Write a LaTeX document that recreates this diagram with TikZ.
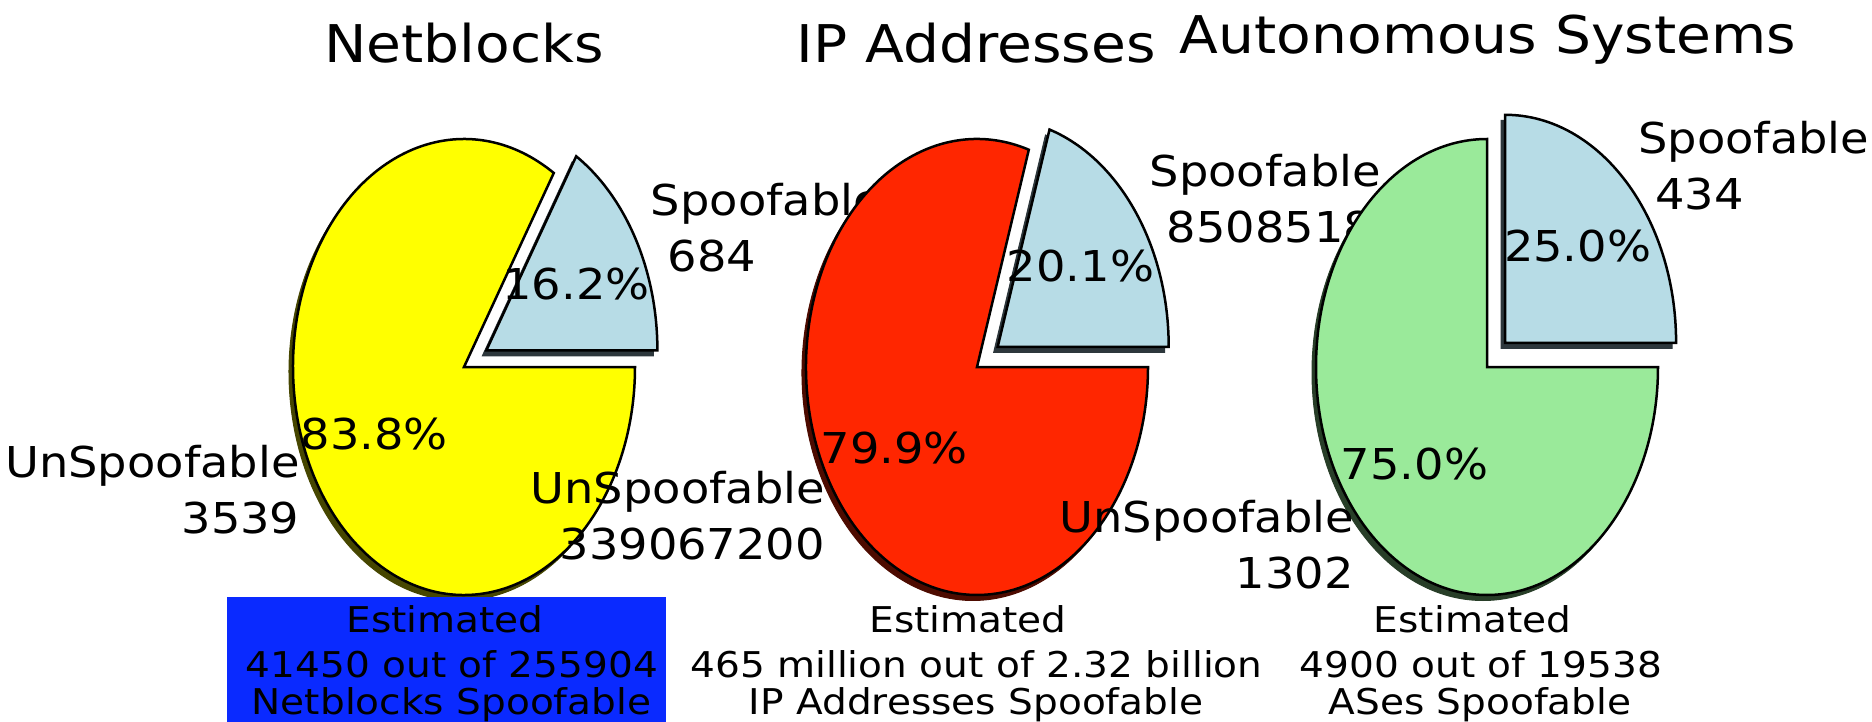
\documentclass[tikz,border=0pt]{standalone}
\usepackage{fontspec}
\newfontfamily\titlefam[FakeStretch=1.09]{DejaVu Sans}
\newfontfamily\lblfam[FakeStretch=1.09]{DejaVu Sans}
\newfontfamily\botfam[FakeStretch=1.1]{DejaVu Sans}
\definecolor{lblue}{RGB}{183,220,230}
\definecolor{pyellow}{RGB}{255,255,0}
\definecolor{pred}{RGB}{255,38,0}
\definecolor{pgreen}{RGB}{154,234,154}
\definecolor{boxblue}{RGB}{10,42,255}
\definecolor{sblue}{RGB}{45,55,60}
\definecolor{syellow}{RGB}{70,70,0}
\definecolor{sred}{RGB}{77,11,0}
\definecolor{sgreen}{RGB}{40,62,40}
\begin{document}
\begin{tikzpicture}[x=1pt,y=-1pt,
  wedge/.style={line width=2.5pt, draw=black, line join=miter},
  shad/.style={line width=1pt, line join=miter},
  ttl/.style={font=\titlefam\fontsize{52}{62}\selectfont, inner sep=0pt, anchor=base, text=black},
  lbl/.style={font=\lblfam\fontsize{42.5}{50}\selectfont, inner sep=0pt, text=black},
  pct/.style={lbl, anchor=center},
  bot/.style={font=\botfam\fontsize{35.5}{42}\selectfont, inner sep=0pt, anchor=base, text=black},
]
\useasboundingbox (0,0) rectangle (1872,722);

% ---------------- Pie 1: Netblocks ----------------
\coordinate (c1) at (464,367);
\coordinate (v1) at (486.4,350.3);
\filldraw[shad, fill=sblue, draw=sblue] ([shift={(-4,5.5)}]v1) -- ++(0:171 and 228) arc[start angle=0, end angle=-58.32, x radius=171, y radius=228] -- cycle;
\filldraw[shad, fill=syellow, draw=syellow] ([shift={(-4,5.5)}]c1) -- ++(-58.32:171 and 228) arc[start angle=-58.32, end angle=-360, x radius=171, y radius=228] -- cycle;
\filldraw[wedge, fill=lblue] (v1) -- ++(0:171 and 228) arc[start angle=0, end angle=-58.32, x radius=171, y radius=228] -- cycle;
\filldraw[wedge, fill=pyellow] (c1) -- ++(-58.32:171 and 228) arc[start angle=-58.32, end angle=-360, x radius=171, y radius=228] -- cycle;
\node[lbl, anchor=base west] (s1a) at (650.7,216) {Spoofable};
\node[lbl, anchor=base west] (s1b) at (667.7,272) {684};
\node[lbl, anchor=base east] (u1a) at (299.7,477) {UnSpoofable};
\node[lbl, anchor=base east] (u1b) at (299.7,533) {3539};
\node[pct] (p1a) at (576,283.6) {16.2\%};
\node[pct] (p1b) at (374.4,433.7) {83.8\%};
\node[ttl] (t1) at (464,63) {Netblocks};
\fill[boxblue] (227,597) rectangle (666,722);
\node[bot] (b1a) at (445,632.7) {Estimated};
\node[bot] (b1b) at (452,677.3) {41450 out of 255904};
\node[bot] (b1c) at (451.5,714) {Netblocks Spoofable};

% ---------------- Pie 2: IP Addresses ----------------
\coordinate (c2) at (977,367);
\coordinate (v2) at (997.7,346.8);
\filldraw[shad, fill=sblue, draw=sblue] ([shift={(-4,5.5)}]v2) -- ++(0:171 and 228) arc[start angle=0, end angle=-72.36, x radius=171, y radius=228] -- cycle;
\filldraw[shad, fill=sred, draw=sred] ([shift={(-4,5.5)}]c2) -- ++(-72.36:171 and 228) arc[start angle=-72.36, end angle=-360, x radius=171, y radius=228] -- cycle;
\filldraw[wedge, fill=lblue] (v2) -- ++(0:171 and 228) arc[start angle=0, end angle=-72.36, x radius=171, y radius=228] -- cycle;
\filldraw[wedge, fill=pred] (c2) -- ++(-72.36:171 and 228) arc[start angle=-72.36, end angle=-360, x radius=171, y radius=228] -- cycle;
\node[lbl, anchor=base west] (s2a) at (1149.6,186.8) {Spoofable};
\node[lbl, anchor=base west] (s2b) at (1166.6,242.8) {8508518};
\node[lbl, anchor=base east] (u2a) at (825.1,503) {UnSpoofable};
\node[lbl, anchor=base east] (u2b) at (825.1,559) {339067200};
\node[pct] (p2a) at (1080.5,266) {20.1\%};
\node[pct] (p2b) at (894.2,447.8) {79.9\%};
\node[ttl] (t2) at (976,63) {IP Addresses};
\node[bot] (b2a) at (968,632.7) {Estimated};
\node[bot] (b2b) at (976.5,677.3) {465 million out of 2.32 billion};
\node[bot] (b2c) at (976,714) {IP Addresses Spoofable};

% ---------------- Pie 3: Autonomous Systems ----------------
\coordinate (c3) at (1487,367);
\coordinate (v3) at (1505.1,342.8);
\filldraw[shad, fill=sblue, draw=sblue] ([shift={(-4,5.5)}]v3) -- ++(0:171 and 228) arc[start angle=0, end angle=-90, x radius=171, y radius=228] -- cycle;
\filldraw[shad, fill=sgreen, draw=sgreen] ([shift={(-4,5.5)}]c3) -- ++(-90:171 and 228) arc[start angle=-90, end angle=-360, x radius=171, y radius=228] -- cycle;
\filldraw[wedge, fill=lblue] (v3) -- ++(0:171 and 228) arc[start angle=0, end angle=-90, x radius=171, y radius=228] -- cycle;
\filldraw[wedge, fill=pgreen] (c3) -- ++(-90:171 and 228) arc[start angle=-90, end angle=-360, x radius=171, y radius=228] -- cycle;
\node[lbl, anchor=base west] (s3a) at (1638.1,153.5) {Spoofable};
\node[lbl, anchor=base west] (s3b) at (1655.1,209.5) {434};
\node[lbl, anchor=base east] (u3a) at (1354,532.3) {UnSpoofable};
\node[lbl, anchor=base east] (u3b) at (1354,588.3) {1302};
\node[pct] (p3a) at (1577.6,246.1) {25.0\%};
\node[pct] (p3b) at (1414.5,463.7) {75.0\%};
\node[ttl] (t3) at (1488,54) {Autonomous Systems};
\node[bot] (b3a) at (1472.5,632.7) {Estimated};
\node[bot] (b3b) at (1481,677.3) {4900 out of 19538};
\node[bot] (b3c) at (1480,714) {ASes Spoofable};
\end{tikzpicture}
\end{document}
